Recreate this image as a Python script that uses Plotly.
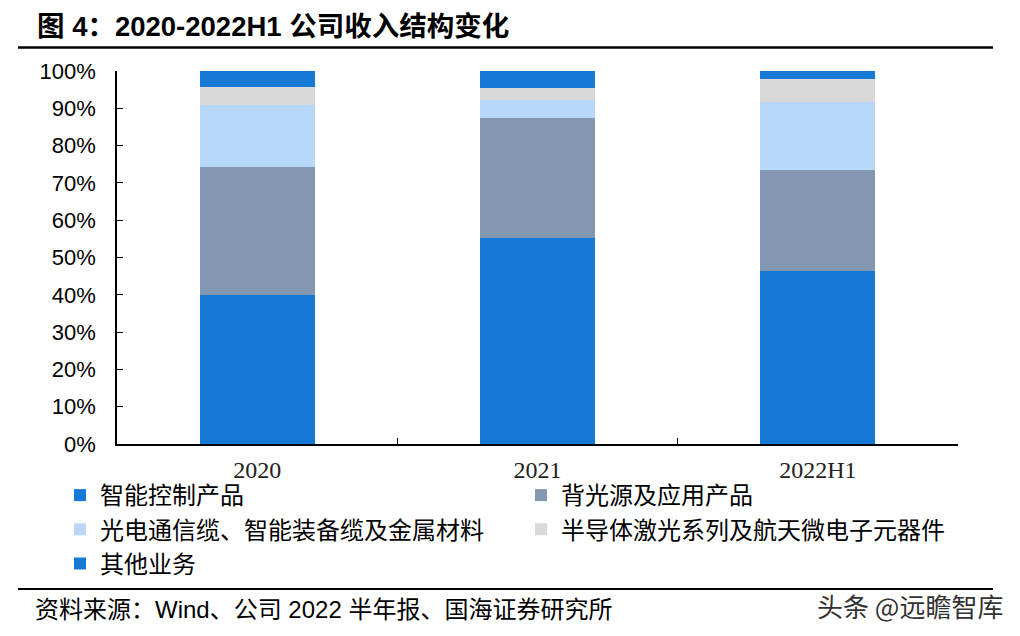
import plotly.graph_objects as go

categories = ["2020", "2021", "2022H1"]
series_names = ["智能控制产品", "背光源及应用产品", "光电通信缆、智能装备缆及金属材料",
                "半导体激光系列及航天微电子元器件", "其他业务"]
smart_control = [39.9, 55.3, 46.4]
backlight = [34.4, 32.0, 27.1]
optical_cable = [16.7, 4.8, 18.2]
semiconductor = [4.8, 3.3, 6.2]
others = [4.2, 4.6, 2.1]
series_values = [smart_control, backlight, optical_cable, semiconductor, others]
colors = ["#1779D6", "#8497B0", "#B7D8F8", "#D9D9D9", "#1779D6"]
y_ticks = [0, 10, 20, 30, 40, 50, 60, 70, 80, 90, 100]
y_tick_labels = ["0%", "10%", "20%", "30%", "40%", "50%", "60%", "70%", "80%", "90%", "100%"]

OFF = 8  # page body margin
W, H = 1020 - OFF, 636 - OFF
L, R, T, B = 117, 958, 71, 444  # plot area in window pixels


def px_x(x):
    return (x - L) / (R - L)


def px_y(y):
    return (B - y) / (B - T)


fig = go.Figure()
for name, vals, col in zip(series_names, series_values, colors):
    fig.add_trace(go.Bar(x=categories, y=vals, name=name, marker_color=col,
                         marker_line_width=0, width=0.41))

CJK = "Noto Sans CJK SC"
fig.update_layout(
    width=W, height=H,
    margin=dict(l=L - OFF, r=W - (R - OFF), t=T - OFF, b=H - (B - OFF), pad=0, autoexpand=False),
    barmode="stack",
    plot_bgcolor="white", paper_bgcolor="white",
    font=dict(family=f"Liberation Sans, {CJK}", color="#000"),
    showlegend=True,
    legend=dict(orientation="h", traceorder="normal",
                entrywidth=416, entrywidthmode="pixels",
                x=px_x(60), y=px_y(473), xanchor="left", yanchor="top",
                font=dict(family=f"Liberation Serif, {CJK}", size=24, color="#000"),
                itemwidth=30, tracegroupgap=0, bgcolor="rgba(0,0,0,0)"),
    xaxis=dict(type="category", showline=True, linecolor="#000", linewidth=1.5,
               ticks="inside", ticklen=6, tickcolor="#000", tickson="boundaries",
               tickfont=dict(family="Liberation Serif", size=24, color="#222"),
               ticklabelstandoff=3, showgrid=False, fixedrange=True),
    yaxis=dict(range=[0, 100], tickvals=y_ticks, ticktext=y_tick_labels,
               showline=True, linecolor="#000", linewidth=1.5,
               ticks="inside", ticklen=6, tickcolor="#000",
               tickfont=dict(family="Liberation Sans", size=22, color="#000"),
               ticklabelstandoff=15, showgrid=False, zeroline=False),
)

# title and footer rules
fig.add_shape(type="line", xref="paper", yref="paper",
              x0=px_x(18), x1=px_x(993), y0=px_y(47.5), y1=px_y(47.5),
              line=dict(color="#000", width=2.5))
fig.add_shape(type="line", xref="paper", yref="paper",
              x0=px_x(18), x1=px_x(993), y0=px_y(589), y1=px_y(589),
              line=dict(color="#000", width=2))

fig.add_annotation(text="<b>图 4：2020-2022H1 公司收入结构变化</b>",
                   xref="paper", yref="paper", x=px_x(35), y=px_y(27),
                   xanchor="left", yanchor="middle", showarrow=False,
                   font=dict(family=f"Liberation Sans, {CJK}", size=27.5, color="#000"))
fig.add_annotation(text="资料来源：Wind、公司 2022 半年报、国海证券研究所",
                   xref="paper", yref="paper", x=px_x(33), y=px_y(609),
                   xanchor="left", yanchor="middle", showarrow=False,
                   font=dict(family=f"Liberation Sans, {CJK}", size=24, color="#000"))
fig.add_annotation(text="头条 @远瞻智库",
                   xref="paper", yref="paper", x=px_x(815), y=px_y(605),
                   xanchor="left", yanchor="middle", showarrow=False,
                   font=dict(family=CJK, size=26, color="#333"))

fig.write_html("out.html")
